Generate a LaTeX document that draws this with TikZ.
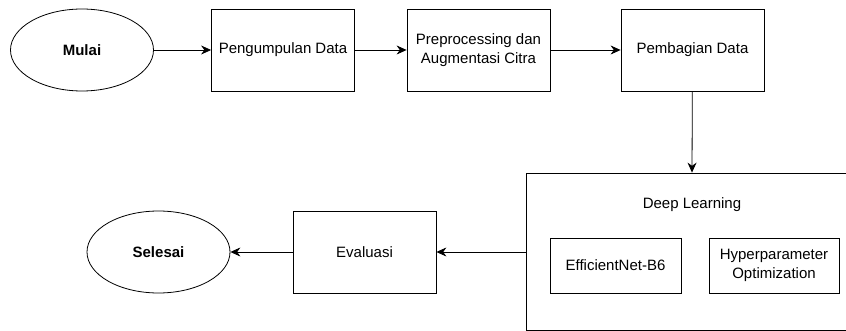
\documentclass[tikz,border=0pt]{standalone}
\usepackage{fontspec}
\setmainfont{Liberation Sans}
\usetikzlibrary{shapes.geometric,arrows.meta}

\tikzset{
    every node/.style={font=\fontsize{15}{19}\selectfont},
    box/.style={draw, line width=0.8pt, minimum width=143pt, minimum height=82pt, inner sep=0pt, align=center},
    subbox/.style={draw, line width=0.8pt, minimum width=131pt, minimum height=55pt, inner sep=0pt, align=center},
    term/.style={draw, ellipse, line width=0.8pt, minimum width=143pt, minimum height=82pt, inner sep=0pt, font=\fontsize{15}{19}\selectfont\bfseries},
    flow/.style={line width=0.8pt, -{Stealth[length=10pt, width=9pt]}}
}

\begin{document}
\begin{tikzpicture}[x=1pt, y=-1pt]
        \useasboundingbox (0,0) rectangle (846,331);
        \node[term] (mulai) at (82, 50) {Mulai};
        \node[box] (kumpul) at (283, 50) {Pengumpulan Data};
        \node[box] (prepro) at (478.5, 50) {Preprocessing dan\\Augmentasi Citra};
        \node[box] (bagi) at (692.5, 50) {Pembagian Data};
        \node[draw, line width=0.8pt, minimum width=332pt, minimum height=157pt, inner sep=0pt] (dl) at (692, 251.5) {};
        \node (dllabel) at (692, 205) {Deep Learning};
        \node[subbox] (effnet) at (615.5, 265.5) {EfficientNet-B6};
        \node[subbox, minimum width=130pt] (hyper) at (774, 265.5) {Hyperparameter\\Optimization};
        \node[box] (eval) at (364.5, 252) {Evaluasi};
        \node[term] (selesai) at (158.5, 252) {Selesai};
        \draw[flow] (mulai) -- (kumpul);
        \draw[flow] (kumpul) -- (prepro);
        \draw[flow] (prepro) -- (bagi);
        \draw[flow] (bagi) -- (dl.north);
        \draw[flow] (dl.west |- eval) -- (eval);
        \draw[flow] (eval) -- (selesai);
\end{tikzpicture}
\end{document}
